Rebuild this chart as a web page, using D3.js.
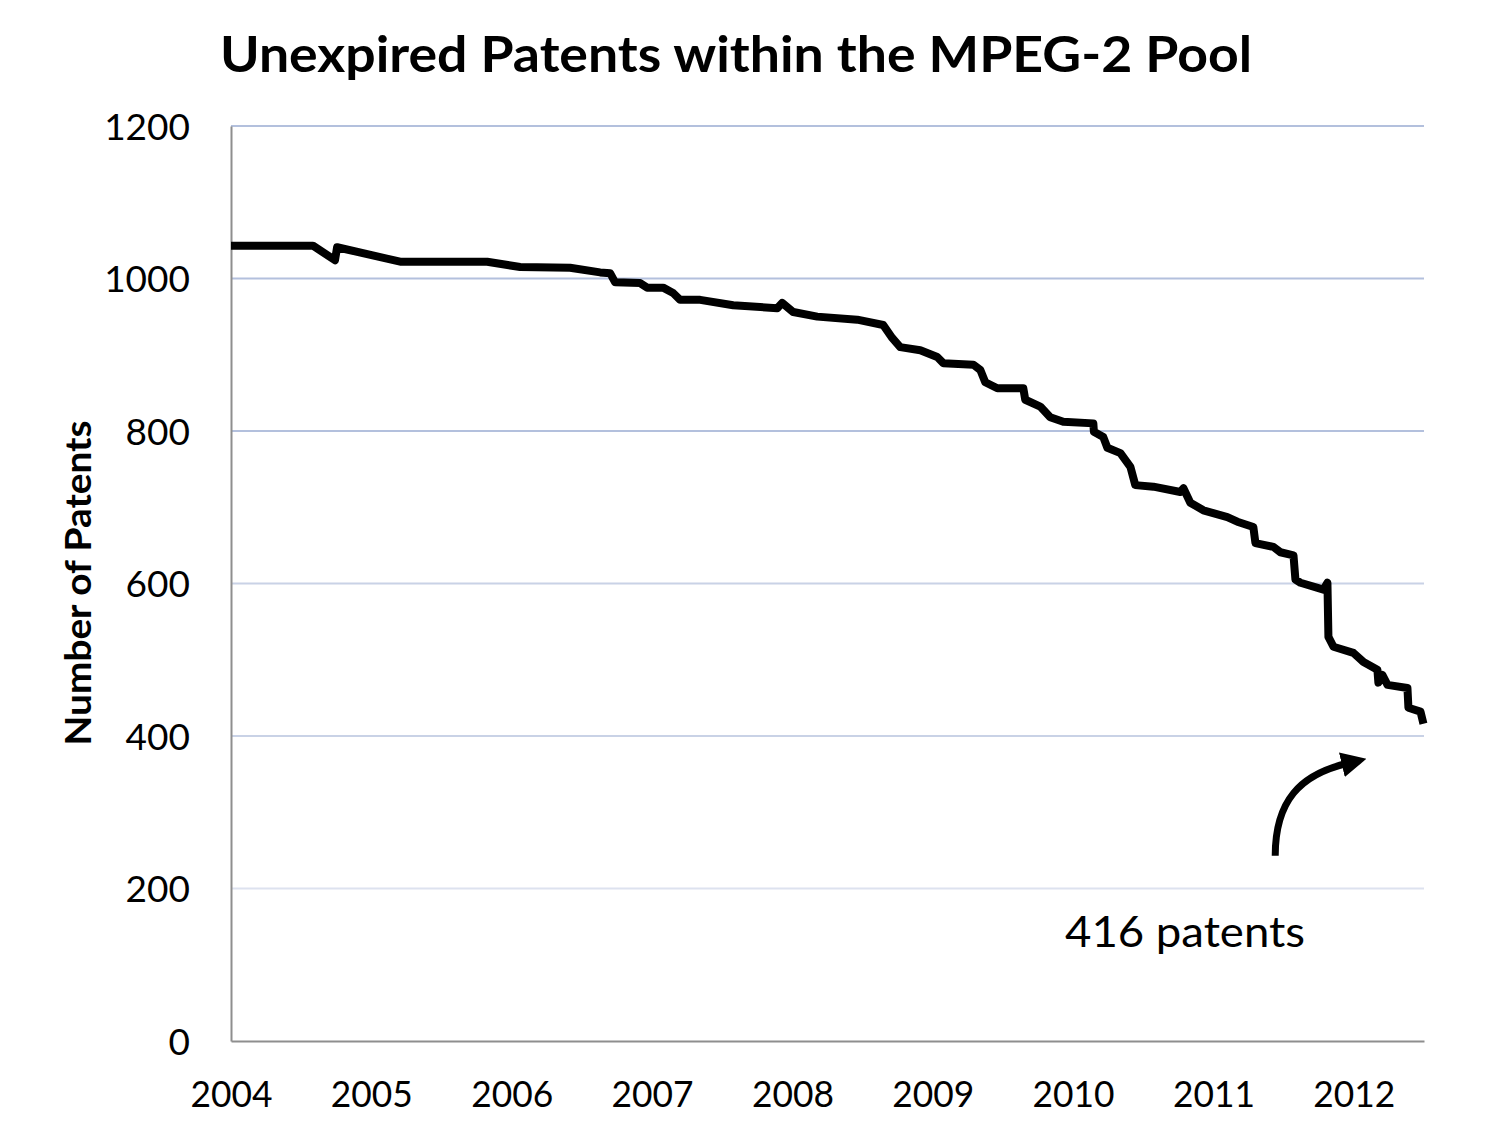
<!DOCTYPE html>
<html>
<head>
<meta charset="utf-8">
<script src="https://cdn.jsdelivr.net/npm/d3@7"></script>
<style>
  html, body { margin: 0; padding: 0; background: #fff; }
  svg { display: block; }
  text { font-family: Lato, "Open Sans", sans-serif; fill: #000; }
</style>
</head>
<body>
<svg id="chart" width="1500" height="1133"></svg>
<script>
// ---- data ----
const years = [
  2004.000, 2004.584, 2004.741, 2004.756, 2005.205, 2005.825, 2006.060, 2006.416,
  2006.630, 2006.701, 2006.737, 2006.915, 2006.965, 2007.079, 2007.150, 2007.200,
  2007.343, 2007.578, 2007.892, 2007.927, 2008.006, 2008.177, 2008.462, 2008.647,
  2008.711, 2008.768, 2008.911, 2009.032, 2009.075, 2009.289, 2009.339, 2009.374,
  2009.460, 2009.645, 2009.659, 2009.766, 2009.837, 2009.930, 2010.144, 2010.148,
  2010.215, 2010.244, 2010.337, 2010.408, 2010.443, 2010.572, 2010.764, 2010.786,
  2010.835, 2010.928, 2011.099, 2011.170, 2011.284, 2011.299, 2011.427, 2011.477,
  2011.570, 2011.584, 2011.620, 2011.784, 2011.812, 2011.819, 2011.855, 2011.997,
  2012.069, 2012.168, 2012.175, 2012.204, 2012.240, 2012.382, 2012.389, 2012.475,
  2012.496
];
const patents = [
  1043, 1043, 1024, 1041, 1022, 1022, 1015, 1014,
  1008, 1007, 995, 994, 988, 988, 981, 972,
  972, 965, 961, 968, 956, 950, 946, 939,
  922, 910, 906, 897, 889, 887, 880, 864,
  856, 856, 841, 832, 818, 812, 810, 799,
  792, 778, 771, 753, 729, 727, 720, 725,
  706, 696, 687, 681, 674, 653, 648, 641,
  637, 605, 601, 592, 601, 530, 517, 509,
  497, 487, 470, 480, 467, 463, 437, 432,
  416
];
const yTicks = [0, 200, 400, 600, 800, 1000, 1200];
const xTicks = [2004, 2005, 2006, 2007, 2008, 2009, 2010, 2011, 2012];
const titleText = "Unexpired Patents within the MPEG-2 Pool";
const yTitle = "Number of Patents";
const noteText = "416 patents";

// ---- layout ----
const svg = d3.select("#chart");
const plotL = 231, plotR = 1424, plotT = 126, plotB = 1041;

const x = d3.scaleLinear().domain([2004, 2012.5]).range([plotL, plotR]);
const y = d3.scaleLinear().domain([0, 1200]).range([plotB, plotT]);

// gridlines
svg.append("g")
  .selectAll("line")
  .data(yTicks.filter(d => d > 0))
  .join("line")
  .attr("x1", plotL).attr("x2", plotR)
  .attr("y1", d => y(d)).attr("y2", d => y(d))
  .attr("stroke", d => d >= 800 ? "#b3c0dd" : (d >= 400 ? "#c9d2e6" : "#dde2ef"))
  .attr("stroke-width", 2);

// y axis
const yAxis = svg.append("g")
  .attr("transform", `translate(${plotL},0)`)
  .call(d3.axisLeft(y).tickValues(yTicks).tickFormat(d3.format("d")).tickSize(0).tickPadding(41));
yAxis.select(".domain").attr("stroke", "#8e8e8e").attr("stroke-width", 2);
yAxis.selectAll("text")
  .style("font-family", "Lato, 'Open Sans', sans-serif")
  .style("font-size", "37px")
  .attr("fill", "#000")
  .attr("dy", "0.36em");

// x axis
const xAxis = svg.append("g")
  .attr("transform", `translate(0,${plotB})`)
  .call(d3.axisBottom(x).tickValues(xTicks).tickFormat(d3.format("d")).tickSize(0).tickPadding(40));
xAxis.select(".domain").attr("stroke", "#8e8e8e").attr("stroke-width", 2);
xAxis.selectAll("text")
  .style("font-family", "Lato, 'Open Sans', sans-serif")
  .style("font-size", "37px")
  .attr("fill", "#000")
  .attr("textLength", 82)
  .attr("lengthAdjust", "spacingAndGlyphs");

// data line
const pts = years.map((t, i) => [t, patents[i]]);
svg.append("path")
  .datum(pts)
  .attr("fill", "none")
  .attr("stroke", "#000")
  .attr("stroke-width", 8)
  .attr("stroke-linejoin", "round")
  .attr("stroke-linecap", "butt")
  .attr("d", d3.line().x(d => x(d[0])).y(d => y(d[1])));

// title
svg.append("text")
  .attr("x", 736).attr("y", 72)
  .attr("text-anchor", "middle")
  .style("font-weight", "bold")
  .style("font-size", "50px")
  .attr("textLength", 1032)
  .attr("lengthAdjust", "spacingAndGlyphs")
  .text(titleText);

// y title
svg.append("text")
  .attr("transform", `translate(91,${583}) rotate(-90)`)
  .attr("text-anchor", "middle")
  .style("font-weight", "bold")
  .style("font-size", "36px")
  .attr("textLength", 325)
  .attr("lengthAdjust", "spacingAndGlyphs")
  .text(yTitle);

// annotation
svg.append("text")
  .attr("x", 1065).attr("y", 947)
  .style("font-size", "42px")
  .attr("textLength", 240)
  .attr("lengthAdjust", "spacingAndGlyphs")
  .text(noteText);

const defs = svg.append("defs");
defs.append("marker")
  .attr("id", "ah")
  .attr("viewBox", "0 0 10 10")
  .attr("refX", 2).attr("refY", 5)
  .attr("markerWidth", 3.6).attr("markerHeight", 3.6)
  .attr("markerUnits", "strokeWidth")
  .attr("orient", "auto")
  .append("path")
  .attr("d", "M0,0 L10,5 L0,10 Z")
  .attr("fill", "#000");

const ax0 = x(2011.44), ay0 = y(243);
const ax1 = x(2011.95), ay1 = y(360);
svg.append("path")
  .attr("d", `M${ax0},${ay0} C${ax0},${ay0 - 55} ${ax0 + 25},${ay1 + 8} ${ax1},${ay1 - 3}`)
  .attr("fill", "none")
  .attr("stroke", "#000")
  .attr("stroke-width", 7)
  .attr("marker-end", "url(#ah)");
</script>
</body>
</html>
